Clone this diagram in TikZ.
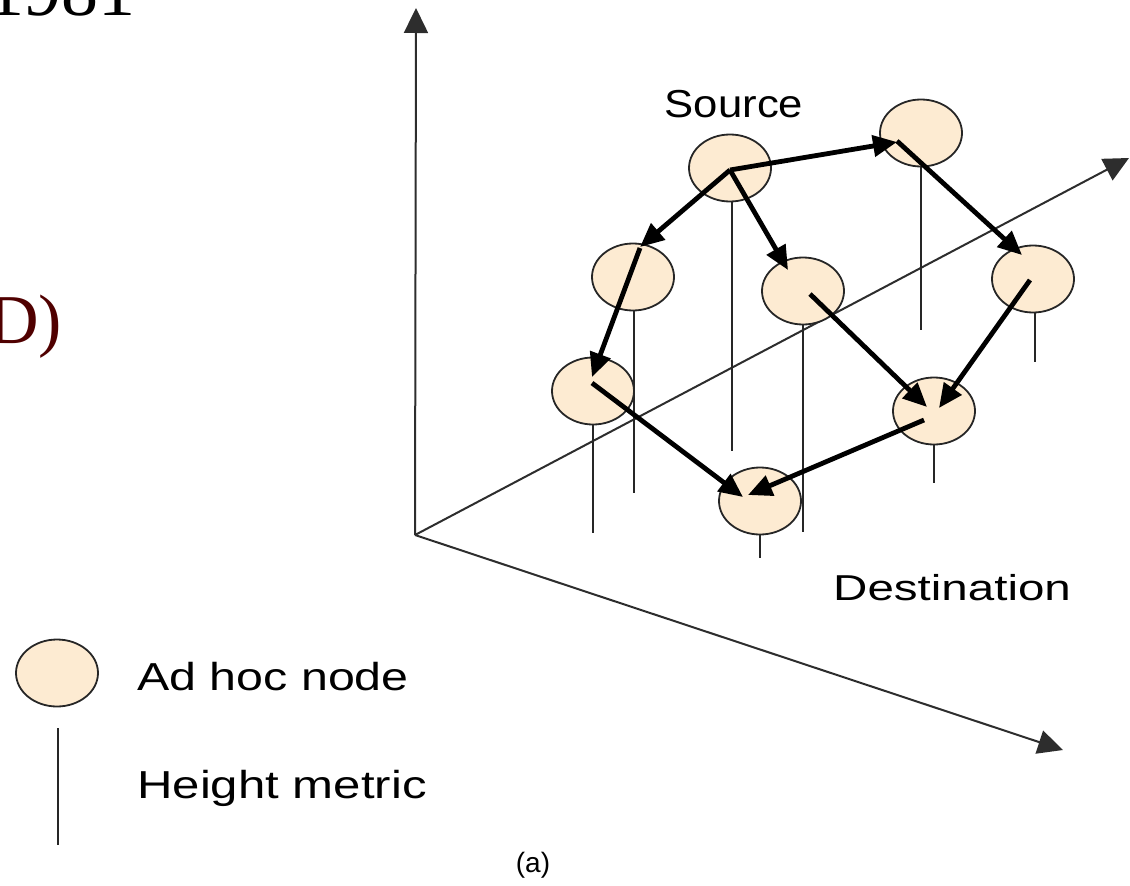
\documentclass[tikz,border=0pt]{standalone}
\usepackage{graphicx}
\usepackage{fontspec}
\setmainfont{Liberation Serif}
\newfontfamily\labfont{Liberation Sans}
\usetikzlibrary{shapes.geometric,arrows.meta,calc}
\definecolor{nodefill}{RGB}{253,235,210}
\definecolor{darkred}{RGB}{80,0,0}
\definecolor{axisgray}{RGB}{45,45,45}
\begin{document}
\begin{tikzpicture}[x=1pt,y=-1pt,
  adhoc/.style={ellipse,draw=black!85,line width=1.8pt,fill=nodefill,minimum width=82pt,minimum height=67pt,inner sep=0pt},
  hline/.style={draw=black!85,line width=2.2pt},
  axisline/.style={draw=axisgray,line width=2pt,-{Triangle[length=25pt,width=24pt]}},
  flow/.style={draw=black,line width=4.8pt,-{Triangle[length=24pt,width=21pt]}},
  lbl/.style={inner sep=0pt,font=\labfont\fontsize{39}{44}\selectfont}]
\useasboundingbox (0,0) rectangle (1130,886);

% axes
\coordinate (O) at (415,535);
\coordinate (ytip) at (416,8);
\coordinate (xtip) at (1063,750);
\coordinate (ztip) at (1129,158);
\draw[axisline] (O) -- (ytip);
\draw[axisline] (O) -- (xtip);
\draw[axisline] (O) -- (ztip);

% nodes
\node[adhoc] (src) at (730,168) {};
\node[adhoc] (tr) at (921,133) {};
\node[adhoc] (lm) at (633,277) {};
\node[adhoc] (cm) at (803,291) {};
\node[adhoc] (rm) at (1033,279) {};
\node[adhoc] (ll) at (593,391) {};
\node[adhoc] (rl) at (934,411) {};
\node[adhoc] (bt) at (760,501) {};

% height metrics
\draw[hline] (src.south) ++(2,0) -- ++(0,249);
\draw[hline] (tr.south) -- ++(0,163);
\draw[hline] (lm.south) ++(1,0) -- ++(0,182);
\draw[hline] (cm.south) -- ++(0,207);
\draw[hline] (rm.south) ++(2,0) -- ++(0,49);
\draw[hline] (ll.south) -- ++(0,108);
\draw[hline] (rl.south) -- ++(0,38);
\draw[hline] (bt.south) -- ++(0,23);

% flows
\draw[flow] ($(src)+(0,2)$) -- ($(tr)+(-24,9)$);
\draw[flow] ($(src)+(0,2)$) -- ($(lm)+(7,-30)$);
\draw[flow] ($(src)+(0,2)$) -- ($(cm)+(-15,-21)$);
\draw[flow] ($(tr)+(-24,8)$) -- ($(rm)+(-11,-24)$);
\draw[flow] ($(lm)+(7,-29)$) -- ($(ll)+(-1,-14)$);
\draw[flow] ($(ll)+(-1,-8)$) -- ($(bt)+(-17,-4)$);
\draw[flow] ($(cm)+(7,3)$) -- ($(rl)+(-7,-4)$);
\draw[flow] ($(rm)+(-3,1)$) -- ($(rl)+(5,-3)$);
\draw[flow] ($(rl)+(-10,9)$) -- ($(bt)+(-12,-6)$);

% labels
\node[lbl,anchor=base] (srclbl) at (734,117) {\scalebox{1.12}[1]{Source}};
\node[lbl,font=\labfont\fontsize{36}{40}\selectfont,anchor=base west] (dstlbl) at (833,600) {\scalebox{1.32}[1]{Destination}};

% legend
\node[adhoc] (legnode) at (57,673) {};
\coordinate (legtop) at (58,728);
\coordinate (legbot) at (58,845);
\draw[hline] (legtop) -- (legbot);
\node[lbl,anchor=base west] (adlbl) at (137,690) {\scalebox{1.24}[1]{Ad hoc node}};
\node[lbl,anchor=base west] (hmlbl) at (137,798) {\scalebox{1.26}[1]{Height metric}};
\node[lbl,font=\labfont\fontsize{28}{30}\selectfont,anchor=base] (cap) at (533,872) {(a)};

% cut-off slide text
\node[anchor=base west,inner sep=0pt,font=\fontsize{74}{80}\selectfont] (yr) at (-13,16) {1981};
\node[anchor=base west,inner sep=0pt,text=darkred,font=\fontsize{70}{80}\selectfont] (dl) at (-12,343) {D)};
\end{tikzpicture}
\end{document}
